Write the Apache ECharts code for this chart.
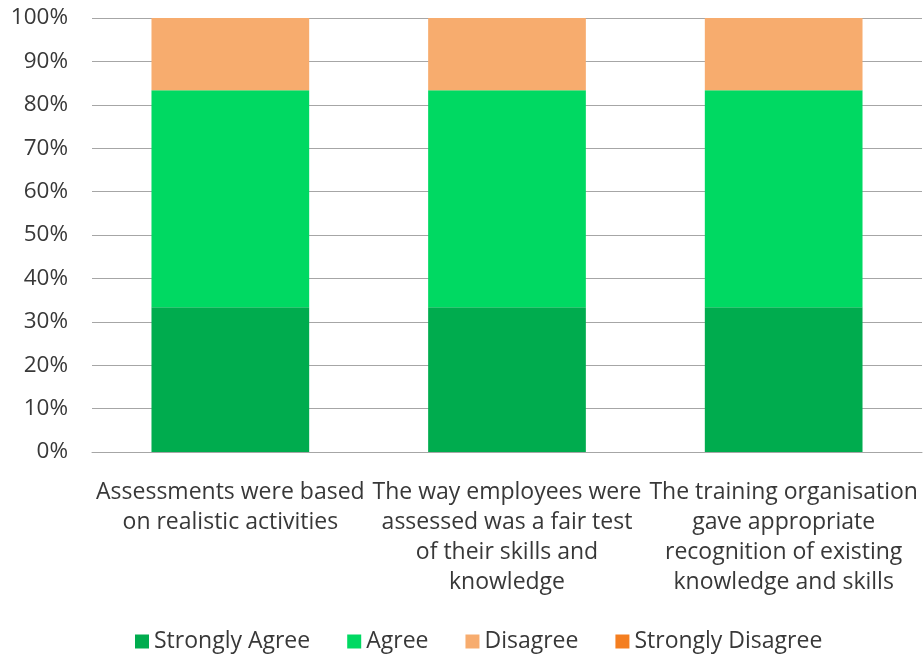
<!DOCTYPE html>
<html>
<head>
<meta charset="utf-8">
<script src="https://cdn.jsdelivr.net/npm/echarts@6/dist/echarts.min.js"></script>
<style>
  html, body { margin: 0; padding: 0; background: #fff; }
  #chart { width: 923px; height: 656px; }
</style>
</head>
<body>
<div id="chart"></div>
<script>
// categories (line breaks as in the picture)
const categories = [
  'Assessments were based\non realistic activities',
  'The way employees were\nassessed was a fair test\nof their skills and\nknowledge',
  'The training organisation\ngave appropriate\nrecognition of existing\nknowledge and skills'
]

// share of answers, percent
const stronglyAgree = [33.33, 33.33, 33.33]
const agree = [50, 50, 50]
const disagree = [16.67, 16.67, 16.67]
const stronglyDisagree = [0, 0, 0]

const seriesNames = ['Strongly Agree', 'Agree', 'Disagree', 'Strongly Disagree']
const seriesColors = ['#00AC4E', '#00D962', '#F7AC6E', '#F47E20']
const seriesData = [stronglyAgree, agree, disagree, stronglyDisagree]

const fontFamily = '"Open Sans", "Liberation Sans", sans-serif'
const textColor = '#383838'

const chart = echarts.init(document.getElementById('chart'))

const option = {
  animation: false,
  textStyle: { fontFamily },
  grid: {
    left: 92,
    right: 1,
    top: 18,
    bottom: 204
  },
  legend: {
    bottom: -2,
    left: 130,
    itemWidth: 14,
    itemHeight: 14,
    itemGap: 37,
    icon: 'rect',
    textStyle: { fontSize: 23, color: textColor, fontFamily },
    data: seriesNames
  },
  xAxis: {
    type: 'category',
    data: categories,
    axisTick: { show: false },
    axisLine: { show: true, lineStyle: { color: '#a6a6a6', width: 1 } },
    axisLabel: {
      interval: 0,
      margin: 25,
      fontSize: 23,
      lineHeight: 30,
      color: textColor
    }
  },
  yAxis: {
    type: 'value',
    min: 0,
    max: 100,
    interval: 10,
    axisLine: { show: false },
    axisTick: { show: false },
    splitLine: { lineStyle: { color: '#a6a6a6', width: 1 } },
    axisLabel: {
      formatter: '{value}%',
      fontSize: 22.5,
      margin: 24,
      color: textColor
    }
  },
  series: seriesNames.map((name, i) => ({
    name,
    type: 'bar',
    stack: 'total',
    barWidth: '57%',
    data: seriesData[i],
    itemStyle: { color: seriesColors[i] }
  }))
}

chart.setOption(option)
</script>
</body>
</html>
